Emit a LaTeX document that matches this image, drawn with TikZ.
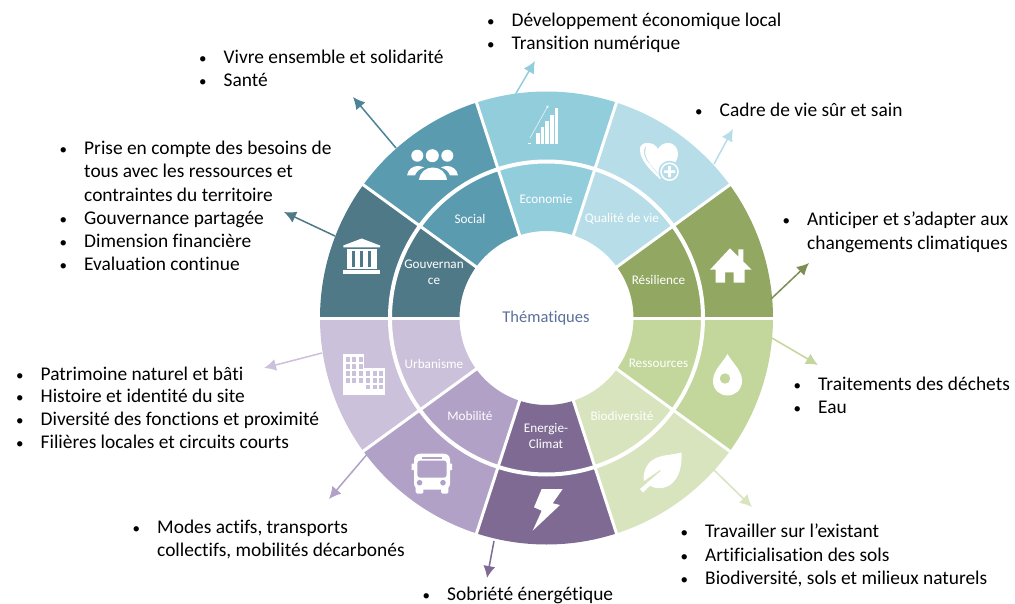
\documentclass[tikz,border=0pt]{standalone}
\usepackage{fontspec}
\setmainfont{Carlito}[Ligatures={NoCommon}]
\usetikzlibrary{arrows.meta}
\definecolor{cGov}{HTML}{4F7987}
\definecolor{cSoc}{HTML}{5A9BB0}
\definecolor{cEco}{HTML}{92CDDC}
\definecolor{cQua}{HTML}{B7DDE8}
\definecolor{cRes}{HTML}{92A862}
\definecolor{cRss}{HTML}{C3D69B}
\definecolor{cBio}{HTML}{D7E4BD}
\definecolor{cEne}{HTML}{7F6A93}
\definecolor{cMob}{HTML}{B2A1C7}
\definecolor{cUrb}{HTML}{CCC1DA}
\definecolor{cThe}{HTML}{5B7099}
\newcommand{\bul}[1]{\makebox[25.5pt][l]{\hspace*{1pt}{\fontsize{15}{15}\selectfont\textbullet}}#1}
\newcommand{\cont}[1]{\hspace*{25.5pt}#1}
\newcommand{\wedgeseg}[3]{\fill[#3] (#1:226.5) arc[start angle=#1,end angle=#2,radius=226.5] -- (#2:87) arc[start angle=#2,end angle=#1,radius=87] -- cycle;}
\tikzset{
  secl/.style={text=white,font=\fontsize{13.2}{16}\selectfont,align=center,inner sep=0pt},
  listn/.style={text=black,font=\fontsize{19.4}{23.2}\selectfont,align=left,anchor=north west,inner sep=0pt},
  lead/.style={-{Latex[length=12pt,width=12pt]},line width=1.5pt},
  ico/.style={fill=white,draw=none}
}
\begin{document}
\begin{tikzpicture}[x=1pt,y=-1pt]
\useasboundingbox (0,0) rectangle (1015,604);
\fill[white] (0,0) rectangle (1015,604);
% sectors, centred on (546.5,318)
\begin{scope}[shift={(546.5,318)},y=1pt]
\wedgeseg{144}{180}{cGov}
\wedgeseg{108}{144}{cSoc}
\wedgeseg{72}{108}{cEco}
\wedgeseg{36}{72}{cQua}
\wedgeseg{0}{36}{cRes}
\wedgeseg{-36}{0}{cRss}
\wedgeseg{-72}{-36}{cBio}
\wedgeseg{-108}{-72}{cEne}
\wedgeseg{-144}{-108}{cMob}
\wedgeseg{-180}{-144}{cUrb}
\foreach \a in {0,36,...,324}{\draw[white,line width=3pt] (\a:80) -- (\a:232);}
\draw[white,line width=4pt] (0,0) circle[radius=156.5];
\end{scope}
% icons
% people
\fill[ico] (417.3,155.7) circle[radius=6] (432.3,155.7) circle[radius=6.5] (447.3,155.7) circle[radius=6];
\fill[ico] (419,180) .. controls (420,172) and (426,167.5) .. (432.7,167.5) .. controls (440,167.5) and (446,172) .. (447,180) -- cycle;
\fill[ico] (407,175.5) .. controls (408,169) and (413,166) .. (418,166) .. controls (421,166) and (423,167) .. (424,167.5) .. controls (419,169) and (416,172) .. (415,175.5) -- cycle;
\fill[ico] (458,175.5) .. controls (457,169) and (452,166) .. (447,166) .. controls (444,166) and (442,167) .. (441,167.5) .. controls (446,169) and (449,172) .. (450,175.5) -- cycle;
% bank
\fill[ico] (361.7,238.5) -- (380,245.5) -- (380,247.5) -- (343.3,247.5) -- (343.3,245.5) -- cycle;
\fill[ico] (343.3,270) rectangle (380,274.5);
\fill[ico] (346.5,249) rectangle (376.5,251);
\fill[ico] (346.5,267) rectangle (376.5,269.2);
\foreach \x in {346.8,354.8,363,371.2}{\fill[ico] (\x,250) rectangle (\x+5.3,268);}
% chart
\foreach \x/\t in {527.5/143,536/133.5,540.7/127,545.3/121,550/115,554.5/108}{\fill[ico] (\x,\t) rectangle (\x+3.7,144.5);}
\draw[white,opacity=.7,line width=.7pt,-{Latex[length=3pt,width=3pt]}] (530,138) -- (548.5,105);
% heart
\fill[ico] (660,179) .. controls (650,170) and (640,160) .. (640,150) .. controls (640,143) and (645,143) .. (648,143) .. controls (652,143) and (656,145) .. (658,149)
  .. controls (660,145) and (664,143) .. (668,143) .. controls (675,143) and (678,149) .. (678,154) .. controls (678,158) and (676,161) .. (675,163) -- (665,175) -- cycle;
\fill[cQua] (646,146) .. controls (642,150) and (644,158) .. (650,164) -- (660,176) .. controls (652,168) and (645,158) .. (645,152) -- cycle;
\fill[cQua] (669.5,171.7) circle[radius=11];
\fill[ico] (669.5,171.7) circle[radius=9.3];
\fill[cQua] (669.5,171.7) circle[radius=7.6];
\fill[ico] (668.2,166) rectangle (670.8,177.4) (663.8,170.4) rectangle (675.2,173);
% house
\fill[ico] (730,248.3) -- (738.3,256.6) -- (738.3,249.3) -- (743.3,249.3) -- (743.3,261.6) -- (751.7,269.7) -- (744.5,269.7) -- (744.5,282.7) -- (733.5,282.7) -- (733.5,272.5) -- (725,272.5) -- (725,282.7) -- (715.5,282.7) -- (715.5,269.7) -- (710,269.7) -- cycle;
% drop
\fill[ico] (727.5,354) .. controls (722,364) and (713,370) .. (713,381) .. controls (713,390) and (720,395.5) .. (727.5,395.5) .. controls (735,395.5) and (742,390) .. (742,381) .. controls (742,370) and (733,364) .. (727.5,354) -- cycle;
\fill[cRss] (725,378.5) circle[radius=5.2];
% leaf
\fill[ico] (681.5,452.5) .. controls (670,456) and (651,453) .. (645,470) .. controls (643,476) and (643.5,480) .. (644,481) -- (660,470) -- (662,472) -- (647,483) .. controls (652,489) and (662,490) .. (670,485) .. controls (680,478) and (682,465) .. (681.5,452.5) -- cycle;
\fill[ico] (640,489) -- (663,469) -- (665,471.5) -- (643,492.5) -- cycle;
% bolt
\fill[ico] (541.7,489) -- (562.7,489) -- (552.7,503.3) -- (560,505) -- (532.7,530.7) -- (541.7,510.7) -- (534,507.3) -- cycle;
% bus
\fill[ico,rounded corners=6pt] (414,453.7) rectangle (450,489.5);
\fill[ico,rounded corners=1.5pt] (415.7,485) rectangle (423.3,493.7) (441,485) rectangle (448.3,493.7);
\fill[ico] (411.7,463.7) rectangle (415,470) (449,463.7) rectangle (452,470);
\fill[cMob] (421.7,457) rectangle (441.7,458.7);
\fill[cMob,rounded corners=3pt] (417.3,460.5) rectangle (446.7,477.7);
\fill[cMob] (419.6,482.7) circle[radius=2.8] (443,482.7) circle[radius=2.8];
% building
\fill[ico] (343,354) rectangle (364,395);
\fill[ico] (364,368) rectangle (384.5,395);
\foreach \x in {345.5,352,358.5}{\foreach \y in {357,364,371,378}{\fill[cUrb] (\x,\y) rectangle (\x+4.2,\y+4.5);}}
\foreach \x in {366,372.5,379}{\foreach \y in {371,378,384.5}{\fill[cUrb] (\x,\y) rectangle (\x+4.2,\y+4.5);}}
% centre labels
\node[text=cThe,font=\fontsize{16.5}{18}\selectfont,inner sep=0pt] (theme) at (546,318) {Thématiques};
\node[secl] (lGov) at (434,272.5) {Gouvernan\\ce};
\node[secl] (lSoc) at (470,218.5) {Social};
\node[secl] (lEco) at (546,199) {Economie};
\node[secl] (lQua) at (622,218.5) {Qualité de vie};
\node[secl] (lRes) at (658.5,279.5) {Résilience};
\node[secl] (lRss) at (658.5,363.5) {Ressources};
\node[secl] (lBio) at (622,416) {Biodiversité};
\node[secl] (lEne) at (546,436) {Energie-\\Climat};
\node[secl] (lMob) at (470,416) {Mobilité};
\node[secl] (lUrb) at (434,363.5) {Urbanisme};
% lead lines
\coordinate (aS1) at (396,148); \coordinate (aS2) at (353,97);
\coordinate (aE1) at (515,95); \coordinate (aE2) at (535,61);
\coordinate (aQ1) at (714,164); \coordinate (aQ2) at (733,129);
\coordinate (aR1) at (771,299); \coordinate (aR2) at (809,263);
\coordinate (aW1) at (772,338); \coordinate (aW2) at (818,365);
\coordinate (aB1) at (714,470); \coordinate (aB2) at (752,507);
\coordinate (aN1) at (494,541); \coordinate (aN2) at (487,578);
\coordinate (aM1) at (369,452); \coordinate (aM2) at (329,499);
\coordinate (aU1) at (322,353); \coordinate (aU2) at (264,368);
\coordinate (aG1) at (335,236); \coordinate (aG2) at (284,212);
\draw[lead,color=cSoc!85!black] (aS1) -- (aS2);
\draw[lead,color=cEco] (aE1) -- (aE2);
\draw[lead,color=cQua] (aQ1) -- (aQ2);
\draw[lead,color=cRes!85!black] (aR1) -- (aR2);
\draw[lead,color=cRss] (aW1) -- (aW2);
\draw[lead,color=cBio] (aB1) -- (aB2);
\draw[lead,color=cEne] (aN1) -- (aN2);
\draw[lead,color=cMob] (aM1) -- (aM2);
\draw[lead,color=cUrb] (aU1) -- (aU2);
\draw[lead,color=cGov] (aG1) -- (aG2);
% lists
\node[listn] (t1) at (486,13) {\bul{Développement économique local}\\\bul{Transition numérique}};
\node[listn] (t2) at (198,49.5) {\bul{Vivre ensemble et solidarité}\\\bul{Santé}};
\node[listn] (t3) at (694,103) {\bul{Cadre de vie sûr et sain}};
\node[listn] (t4) at (58.5,141) {\bul{Prise en compte des besoins de}\\\cont{tous avec les ressources et}\\\cont{contraintes du territoire}\\\bul{Gouvernance partagée}\\\bul{Dimension financière}\\\bul{Evaluation continue}};
\node[listn] (t5) at (781.5,212) {\bul{Anticiper et s’adapter aux}\\\cont{changements climatiques}};
\node[listn,font=\fontsize{19.4}{22.7}\selectfont] (t6) at (15,366.5) {\bul{Patrimoine naturel et bâti}\\\bul{Histoire et identité du site}\\\bul{Diversité des fonctions et proximité}\\\bul{Filières locales et circuits courts}};
\node[listn] (t7) at (792.5,377) {\bul{Traitements des déchets}\\\bul{Eau}};
\node[listn] (t8) at (131.5,519.5) {\bul{Modes actifs, transports}\\\cont{collectifs, mobilités décarbonés}};
\node[listn] (t9) at (679.5,524) {\bul{Travailler sur l’existant}\\\bul{Artificialisation des sols}\\\bul{Biodiversité, sols et milieux naturels}};
\node[listn] (t10) at (421.5,587) {\bul{Sobriété énergétique}};
\end{tikzpicture}
\end{document}
